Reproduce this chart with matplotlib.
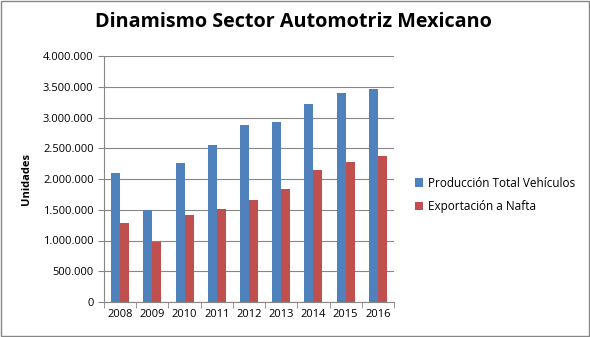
import matplotlib
matplotlib.use("Agg")
import matplotlib.pyplot as plt
from matplotlib.ticker import FuncFormatter
import numpy as np

years = ["2008", "2009", "2010", "2011", "2012", "2013", "2014", "2015", "2016"]
produccion = [2100000, 1494000, 2263000, 2555000, 2880000, 2928000, 3221000, 3399000, 3464000]
exportacion = [1288000, 980000, 1418000, 1516000, 1662000, 1840000, 2149000, 2279000, 2376000]

plt.rcParams['font.family'] = ['Open Sans', 'DejaVu Sans']

fig = plt.figure(figsize=(5.9, 3.37), dpi=100)
ax = fig.add_axes([104/590, 1 - 302/337, (394-104)/590, (302-56)/337])

x = np.arange(len(years))
w = 0.28
ax.bar(x - w/2, produccion, w, color="#4F81BD", label="Producción Total Vehículos", zorder=3)
ax.bar(x + w/2, exportacion, w, color="#C0504D", label="Exportación a Nafta", zorder=3)

ax.set_xlim(-0.5, len(years) - 0.5)
ax.set_ylim(0, 4000000)
ax.set_yticks(np.arange(0, 4000001, 500000))
ax.yaxis.set_major_formatter(FuncFormatter(lambda v, p: f"{int(v):,}".replace(",", ".")))
ax.set_xticks(x)
ax.set_xticklabels(years)
ax.set_xticks(np.arange(-0.5, len(years), 1), minor=True)
ax.tick_params(axis='x', which='major', length=0, labelsize=8, pad=5)
ax.tick_params(axis='x', which='minor', length=4, color="#868686")
ax.tick_params(axis='y', length=4, color="#868686", labelsize=8)
ax.grid(axis='y', color="#868686", linewidth=0.8, zorder=0)
for s in ["top", "right"]:
    ax.spines[s].set_visible(False)
for s in ["left", "bottom"]:
    ax.spines[s].set_color("#868686")

ax.set_ylabel("Unidades", fontsize=8, fontweight="bold", labelpad=8)

fig.text(293/590, 1 - 22/337, "Dinamismo Sector Automotriz Mexicano", ha="center", va="center",
         fontsize=14.2, fontweight="bold")

fig.legend(loc="upper left", bbox_to_anchor=(404/590, 1 - 166/337), frameon=False,
           fontsize=8.5, handlelength=0.7, handleheight=0.7, handletextpad=0.4, labelspacing=0.9)

border = plt.Rectangle((1/590, 1.5/337), 1 - 2.5/590, 1 - 2.5/337, transform=fig.transFigure,
                       fill=False, edgecolor="#868686", linewidth=1)
fig.patches.append(border)

fig.savefig("out.png", dpi=100)
